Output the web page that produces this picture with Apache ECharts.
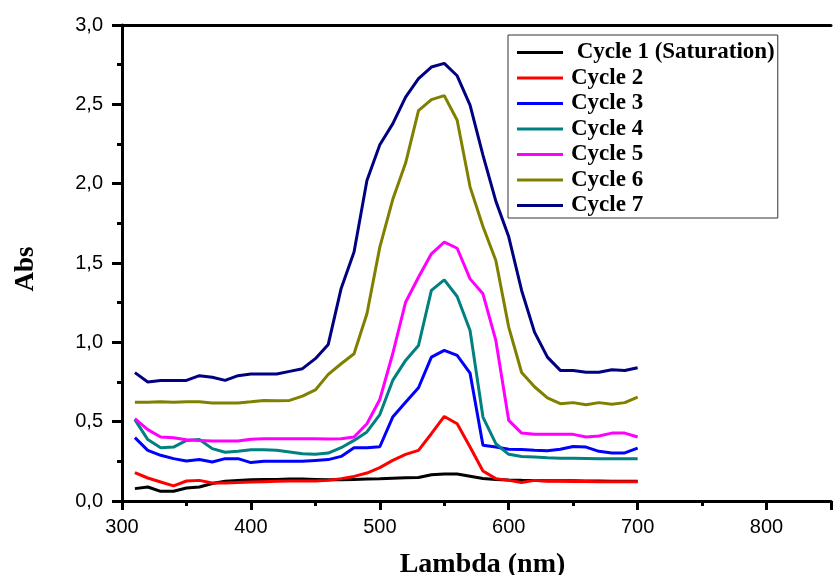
<!DOCTYPE html>
<html>
<head>
<meta charset="utf-8">
<script src="https://cdn.jsdelivr.net/npm/echarts@6/dist/echarts.min.js"></script>
<style>
  html, body { margin: 0; padding: 0; background: #fff; }
  #chart { width: 833px; height: 575px; }
</style>
</head>
<body>
<div id="chart"></div>
<script>
// Absorbance spectra recorded after each regeneration cycle (310–700 nm, 10 nm step)
const wavelengths = [310,320,330,340,350,360,370,380,390,400,410,420,430,440,450,460,470,480,490,500,
                     510,520,530,540,550,560,570,580,590,600,610,620,630,640,650,660,670,680,690,700];

const seriesNames = ['Cycle 1 (Saturation)', 'Cycle 2', 'Cycle 3', 'Cycle 4', 'Cycle 5', 'Cycle 6', 'Cycle 7'];
const seriesColors = ['#000000', '#FF0000', '#0000FF', '#008080', '#FF00FF', '#808000', '#000080'];

const cycle1 = [0.078,0.088,0.061,0.061,0.082,0.088,0.110,0.124,0.130,0.134,0.136,0.136,0.138,0.138,0.136,0.134,0.134,0.136,0.138,0.140,
                0.143,0.146,0.148,0.166,0.170,0.170,0.156,0.142,0.135,0.132,0.130,0.129,0.128,0.127,0.127,0.126,0.126,0.125,0.125,0.124];
const cycle2 = [0.179,0.145,0.120,0.095,0.126,0.130,0.113,0.113,0.116,0.120,0.122,0.124,0.126,0.126,0.126,0.130,0.141,0.155,0.176,0.210,
                0.256,0.294,0.319,0.424,0.533,0.487,0.340,0.189,0.141,0.130,0.116,0.130,0.124,0.124,0.123,0.123,0.122,0.122,0.122,0.121];
const cycle3 = [0.399,0.319,0.288,0.267,0.252,0.261,0.246,0.267,0.267,0.242,0.250,0.250,0.250,0.250,0.256,0.261,0.281,0.336,0.336,0.342,
                0.529,0.623,0.714,0.907,0.949,0.918,0.806,0.351,0.340,0.326,0.325,0.320,0.316,0.326,0.344,0.340,0.313,0.303,0.303,0.333];
const cycle4 = [0.513,0.387,0.336,0.340,0.382,0.387,0.330,0.307,0.313,0.323,0.323,0.320,0.309,0.298,0.294,0.302,0.336,0.382,0.435,0.545,
                0.760,0.886,0.980,1.327,1.394,1.289,1.075,0.529,0.361,0.294,0.281,0.277,0.273,0.270,0.269,0.268,0.267,0.267,0.267,0.267];
const cycle5 = [0.519,0.450,0.403,0.399,0.386,0.382,0.378,0.378,0.378,0.389,0.393,0.393,0.393,0.393,0.393,0.390,0.393,0.403,0.487,0.640,
                0.928,1.253,1.410,1.558,1.631,1.593,1.400,1.306,1.012,0.508,0.428,0.420,0.420,0.420,0.420,0.403,0.410,0.428,0.428,0.403];
const cycle6 = [0.623,0.623,0.625,0.623,0.625,0.625,0.618,0.617,0.617,0.625,0.634,0.632,0.634,0.661,0.700,0.798,0.865,0.928,1.180,1.600,
                1.900,2.130,2.460,2.530,2.555,2.400,1.980,1.730,1.516,1.096,0.810,0.720,0.650,0.613,0.620,0.607,0.620,0.610,0.620,0.655];
const cycle7 = [0.809,0.750,0.760,0.760,0.760,0.790,0.780,0.760,0.790,0.800,0.800,0.800,0.817,0.834,0.897,0.987,1.340,1.570,2.020,2.245,
                2.377,2.546,2.662,2.735,2.758,2.680,2.495,2.180,1.890,1.665,1.327,1.064,0.907,0.823,0.823,0.812,0.812,0.827,0.823,0.840];

const allCycles = [cycle1, cycle2, cycle3, cycle4, cycle5, cycle6, cycle7];

const xTickLabels = [300, 400, 500, 600, 700, 800];

const serifBold = { fontFamily: '"Liberation Serif", "Times New Roman", serif', fontWeight: 'bold', color: '#000' };
const sans = '"Liberation Sans", Arial, sans-serif';

const chart = echarts.init(document.getElementById('chart'), null, { renderer: 'canvas' });

const series = allCycles.map((vals, i) => ({
  name: seriesNames[i],
  type: 'line',
  data: wavelengths.map((w, k) => [w, vals[k]]),
  showSymbol: false,
  symbol: 'none',
  lineStyle: { color: seriesColors[i], width: 3 },
  itemStyle: { color: seriesColors[i] },
  silent: true,
  animation: false
}));

chart.setOption({
  animation: false,
  backgroundColor: '#ffffff',
  grid: { left: 122, right: 2, top: 25, bottom: 74, containLabel: false, outerBoundsMode: 'none' },
  legend: {
    orient: 'vertical',
    left: 508,
    top: 35,
    icon: 'rect',
    itemWidth: 46,
    itemHeight: 3,
    itemGap: 2.5,
    padding: [6, 3, 1, 9],
    borderColor: '#333',
    borderWidth: 1,
    backgroundColor: '#fff',
    data: seriesNames,
    formatter: name => (name === seriesNames[0] ? ' ' + name : name),
    textStyle: Object.assign({ fontSize: 23, lineHeight: 23, padding: [0, 0, 0, 3] }, serifBold)
  },
  xAxis: [{
    type: 'value',
    min: 300,
    max: 850,
    interval: 100,
    name: 'Lambda (nm)',
    nameLocation: 'middle',
    nameGap: 50,
    nameTextStyle: Object.assign({ fontSize: 28, padding: [0, 0, 0, 12] }, serifBold),
    axisLine: { show: true, onZero: false, lineStyle: { color: '#000', width: 3 } },
    axisTick: { show: true, length: 9, lineStyle: { color: '#000', width: 3 } },
    minorTick: { show: true, splitNumber: 2, length: 5, lineStyle: { color: '#000', width: 3 } },
    axisLabel: {
      fontSize: 20, fontFamily: sans, color: '#000', margin: 16,
      formatter: v => (xTickLabels.indexOf(v) >= 0 ? String(v) : '')
    },
    splitLine: { show: false }
  }, {
    type: 'value',
    position: 'top',
    min: 300,
    max: 850,
    axisLine: { show: true, onZero: false, lineStyle: { color: '#000', width: 3 } },
    axisTick: { show: false },
    axisLabel: { show: false },
    splitLine: { show: false }
  }],
  yAxis: {
    type: 'value',
    min: 0,
    max: 3,
    interval: 0.5,
    name: 'Abs',
    nameLocation: 'middle',
    nameGap: 82,
    nameTextStyle: Object.assign({ fontSize: 27, padding: [0, 12, 0, 0] }, serifBold),
    axisLine: { show: true, onZero: false, lineStyle: { color: '#000', width: 3 } },
    axisTick: { show: true, length: 10, lineStyle: { color: '#000', width: 3 } },
    minorTick: { show: true, splitNumber: 2, length: 5, lineStyle: { color: '#000', width: 3 } },
    axisLabel: {
      fontSize: 20, fontFamily: sans, color: '#000', margin: 19,
      formatter: v => v.toFixed(1).replace('.', ',')
    },
    splitLine: { show: false }
  },
  series: series
});
</script>
</body>
</html>
